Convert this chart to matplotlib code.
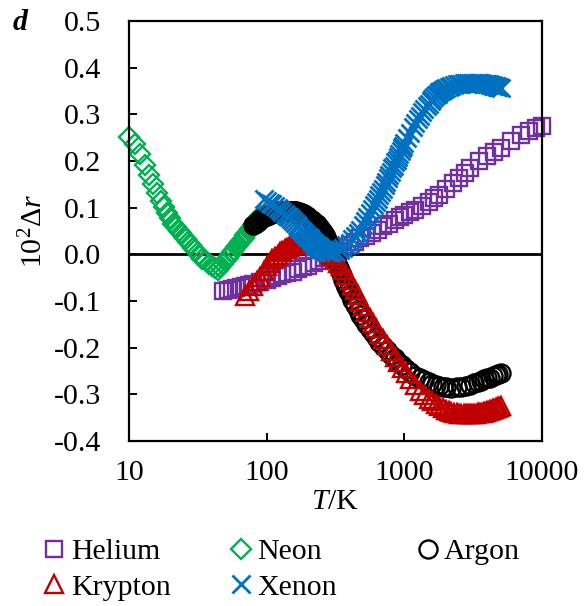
import matplotlib
matplotlib.use("Agg")
import matplotlib.pyplot as plt
from matplotlib.ticker import FixedLocator, NullLocator, FormatStrFormatter

plt.rcParams['font.family'] = 'serif'
plt.rcParams['font.serif'] = ['Liberation Serif', 'DejaVu Serif']
plt.rcParams['mathtext.fontset'] = 'custom'
plt.rcParams['mathtext.rm'] = 'Liberation Serif'
plt.rcParams['mathtext.it'] = 'Liberation Serif:italic'
plt.rcParams['axes.unicode_minus'] = False
plt.rcParams['font.size'] = 21.5

# temperature T/K and 10^2 * delta r for each gas
he_T = [48, 52, 56, 60, 65, 70, 75, 80, 90, 100,
        110, 120, 130, 140, 155, 170, 185, 200, 220, 240,
        260, 280, 300, 330, 360, 400, 440, 480, 530, 580,
        640, 700, 770, 850, 930, 1000, 1100, 1200, 1350, 1500,
        1650, 1800, 2000, 2250, 2500, 2750, 3000, 3500, 4000, 4500,
        5000, 6000, 7000, 8000, 9000, 10000]
he_v = [-0.079, -0.077, -0.075, -0.073, -0.071, -0.068, -0.066, -0.064, -0.059, -0.055,
        -0.050, -0.046, -0.043, -0.041, -0.037, -0.032, -0.028, -0.024, -0.019, -0.014,
        -0.008, -0.004, 0.002, 0.008, 0.013, 0.020, 0.027, 0.034, 0.040, 0.045,
        0.052, 0.060, 0.066, 0.073, 0.080, 0.085, 0.091, 0.096, 0.104, 0.113,
        0.121, 0.128, 0.140, 0.152, 0.164, 0.175, 0.185, 0.199, 0.211, 0.220,
        0.228, 0.243, 0.256, 0.265, 0.271, 0.275]

ne_T = [10, 11, 12, 13, 14, 15, 16, 17, 18, 19, 20, 21, 22, 23, 24, 25, 26, 27, 28, 29, 30,
        32, 34, 36, 38, 40, 42, 44, 46, 48, 50, 52, 54, 56, 58, 60,
        62, 64, 66, 68, 70, 72, 74, 76, 78, 80, 82, 84, 86, 88, 90]
ne_v = [0.252, 0.236, 0.216, 0.192, 0.170, 0.150, 0.131, 0.114, 0.101, 0.089, 0.077,
        0.066, 0.059, 0.051, 0.045, 0.038, 0.032, 0.026, 0.020, 0.014, 0.009,
        -0.002, -0.009, -0.015, -0.020, -0.025, -0.030, -0.034, -0.028, -0.021, -0.014,
        -0.008, -0.002, 0.004, 0.010, 0.016, 0.021, 0.026, 0.031, 0.036, 0.041,
        0.045, 0.050, 0.054, 0.058, 0.063, 0.067, 0.071, 0.074, 0.078, 0.082]

ar_T = [80, 82, 84, 86, 88, 90, 92, 94, 96, 98,
        100, 102, 104, 106, 108, 110, 112, 114, 116, 118,
        120, 122, 124, 126, 128, 130, 132, 134, 136, 138,
        140, 142, 144, 146, 148, 150, 152, 154, 156, 158,
        160, 162, 164, 166, 168, 170, 172, 174, 176, 178,
        180, 182, 184, 186, 188, 190, 192, 194, 196, 198,
        200, 204, 208, 212, 216, 220, 224, 228, 232, 236,
        240, 244, 248, 252, 256, 260, 264, 268, 272, 276,
        280, 284, 288, 292, 296, 300, 305, 310, 315, 320,
        325, 330, 335, 340, 345, 350, 360, 370, 380, 390,
        400, 420, 440, 460, 480, 500, 530, 560, 590, 620,
        660, 700, 750, 800, 850, 900, 960, 1020, 1100,
        1200, 1300, 1400, 1500, 1600, 1700, 1800, 1900, 2000,
        2200, 2400, 2600, 2800, 3000, 3200, 3400, 3600, 3800, 4000,
        4200, 4400, 4600, 4800, 5000]
ar_v = [0.062, 0.065, 0.068, 0.070, 0.073, 0.075, 0.077, 0.079, 0.080, 0.082,
        0.083, 0.084, 0.085, 0.086, 0.087, 0.088, 0.089, 0.089, 0.090, 0.090,
        0.091, 0.091, 0.092, 0.092, 0.092, 0.093, 0.093, 0.093, 0.093, 0.093,
        0.093, 0.093, 0.093, 0.093, 0.093, 0.093, 0.093, 0.093, 0.092, 0.092,
        0.092, 0.092, 0.091, 0.091, 0.090, 0.090, 0.090, 0.089, 0.089, 0.088,
        0.088, 0.087, 0.086, 0.086, 0.085, 0.084, 0.083, 0.083, 0.082, 0.081,
        0.080, 0.078, 0.076, 0.074, 0.072, 0.070, 0.068, 0.066, 0.064, 0.061,
        0.059, 0.056, 0.053, 0.050, 0.047, 0.044, 0.041, 0.037, 0.033, 0.030,
        0.026, 0.022, 0.018, 0.014, 0.009, 0.005, 0.000, -0.005, -0.010, -0.015,
        -0.020, -0.025, -0.030, -0.035, -0.040, -0.045, -0.055, -0.063, -0.070, -0.078,
        -0.085, -0.097, -0.109, -0.120, -0.129, -0.138, -0.149, -0.160, -0.169, -0.177,
        -0.187, -0.196, -0.205, -0.215, -0.223, -0.230, -0.238, -0.245, -0.253,
        -0.260, -0.266, -0.270, -0.274, -0.277, -0.280, -0.282, -0.284, -0.285,
        -0.286, -0.285, -0.284, -0.282, -0.279, -0.276, -0.273, -0.271, -0.268, -0.266,
        -0.264, -0.261, -0.259, -0.257, -0.255]

kr_T = [70, 75, 80, 85, 90, 95, 100, 105, 110, 115, 120, 125, 130, 135, 140, 145, 150,
        155, 160, 165, 170, 175, 180, 185, 190, 195, 200, 205, 210, 215, 220, 225, 230,
        235, 240, 245, 250, 255, 260, 265, 270, 275, 280, 285, 290, 295, 300,
        315, 330, 345, 360, 380, 400, 420, 440, 460, 480, 500,
        530, 560, 590, 620, 660, 700, 750, 800, 850, 900, 960, 1020, 1100,
        1200, 1300, 1400, 1500, 1600, 1700, 1800, 1900, 2000,
        2100, 2200, 2300, 2400, 2500, 2600, 2700, 2800, 2900, 3000,
        3100, 3200, 3300, 3400, 3500, 3600, 3700, 3800, 3900, 4000,
        4100, 4200, 4300, 4400, 4500, 4600, 4700, 4800, 4900, 5000]
kr_v = [-0.090, -0.079, -0.068, -0.058, -0.048, -0.036, -0.025, -0.018, -0.011, -0.005,
        -0.001, 0.004, 0.008, 0.011, 0.013, 0.016, 0.018,
        0.019, 0.021, 0.022, 0.024, 0.025, 0.026, 0.027, 0.027, 0.028, 0.028, 0.028, 0.028,
        0.027, 0.027, 0.026, 0.025, 0.024, 0.023, 0.021, 0.020, 0.018, 0.016, 0.014, 0.012,
        0.010, 0.008, 0.005, 0.003, 0.000, -0.003,
        -0.010, -0.018, -0.025, -0.033, -0.044, -0.055, -0.066, -0.077, -0.088, -0.099, -0.110,
        -0.124, -0.137, -0.147, -0.157, -0.170, -0.182, -0.195, -0.208, -0.220, -0.231,
        -0.243, -0.254, -0.268,
        -0.281, -0.292, -0.301, -0.309, -0.315, -0.320, -0.326, -0.330, -0.333,
        -0.336, -0.338, -0.340, -0.341, -0.342, -0.343, -0.343, -0.343, -0.343, -0.343,
        -0.343, -0.342, -0.342, -0.341, -0.340, -0.339, -0.339, -0.338, -0.337, -0.336,
        -0.335, -0.334, -0.333, -0.332, -0.331, -0.330, -0.329, -0.328, -0.327, -0.326]

xe_T = [95, 100, 105, 110, 115, 120, 125, 130, 135, 140, 145, 150, 155, 160, 165, 170,
        175, 180, 185, 190, 195, 200, 205, 210, 215, 220, 225, 230, 235, 240, 245, 250,
        255, 260, 265, 270, 275, 280, 285, 290, 295, 300,
        320, 340, 360, 380, 400, 420, 440, 460, 480, 500,
        520, 540, 560, 580, 600, 620, 640, 660, 680, 700,
        720, 740, 760, 780, 800, 820, 840, 860, 880, 900,
        920, 940, 960, 980, 1000,
        1050, 1100, 1150, 1200, 1250, 1300, 1350, 1400, 1450, 1500,
        1550, 1600, 1650, 1700, 1750, 1800, 1850, 1900, 1950, 2000,
        2100, 2200, 2300, 2400, 2500, 2600, 2700, 2800, 2900, 3000,
        3100, 3200, 3300, 3400, 3500, 3600, 3700, 3800, 3900, 4000,
        4100, 4200, 4300, 4400, 4500, 4600, 4700, 4800, 4900, 5000]
xe_v = [0.118, 0.115, 0.111, 0.107, 0.103, 0.099, 0.095, 0.091, 0.087, 0.083, 0.079,
        0.075, 0.071, 0.067, 0.063, 0.059, 0.055, 0.051, 0.048, 0.044, 0.040, 0.037,
        0.034, 0.030, 0.027, 0.024, 0.021, 0.019, 0.017, 0.015, 0.013, 0.011, 0.010,
        0.009, 0.008, 0.007, 0.006, 0.005, 0.005, 0.004, 0.004, 0.004,
        0.006, 0.010, 0.014, 0.019, 0.025, 0.032, 0.039, 0.046, 0.053, 0.062,
        0.071, 0.080, 0.089, 0.097, 0.105, 0.112, 0.119, 0.127, 0.134, 0.141,
        0.149, 0.156, 0.163, 0.170, 0.177, 0.184, 0.190, 0.197, 0.203, 0.209,
        0.215, 0.221, 0.227, 0.233, 0.238,
        0.249, 0.261, 0.272, 0.282, 0.289, 0.297, 0.304, 0.311, 0.318, 0.323,
        0.328, 0.333, 0.337, 0.341, 0.344, 0.347, 0.350, 0.352, 0.354, 0.356,
        0.359, 0.361, 0.363, 0.364, 0.365, 0.366, 0.367, 0.367, 0.368, 0.368,
        0.368, 0.368, 0.368, 0.368, 0.367, 0.367, 0.366, 0.366, 0.365, 0.364,
        0.364, 0.363, 0.362, 0.361, 0.361, 0.360, 0.359, 0.358, 0.358, 0.357]

x_ticks = [10, 100, 1000, 10000]
x_labels = ['10', '100', '1000', '10000']
y_ticks = [-0.4, -0.3, -0.2, -0.1, 0.0, 0.1, 0.2, 0.3, 0.4, 0.5]

fig = plt.figure(figsize=(5.85, 6.06), dpi=100)
ax = fig.add_axes([0.2205, 0.2723, 0.706, 0.693])

ax.axhline(0, color='black', lw=2.0, zorder=1)

kw = dict(ls='none', mfc='none', clip_on=False)
h_he, = ax.plot(he_T, he_v, marker='s', ms=12, mew=1.7, mec='#7030A0', label='Helium', **kw)
h_ne, = ax.plot(ne_T, ne_v, marker='D', ms=10.5, mew=1.7, mec='#00B050', label='Neon', **kw)
h_ar, = ax.plot(ar_T, ar_v, marker='o', ms=13, mew=1.7, mec='black', label='Argon', **kw)
h_kr, = ax.plot(kr_T, kr_v, marker='^', ms=13.5, mew=1.7, mec='#C00000', label='Krypton', **kw)
h_xe, = ax.plot(xe_T, xe_v, marker='x', ms=13, mew=2.0, mec='#0070C0', label='Xenon', **kw)

ax.set_xscale('log')
ax.set_xlim(10, 10000)
ax.set_ylim(-0.4, 0.5)
ax.xaxis.set_major_locator(FixedLocator(x_ticks))
ax.xaxis.set_minor_locator(NullLocator())
ax.set_xticklabels(x_labels)
ax.set_yticks(y_ticks)
ax.yaxis.set_major_formatter(FormatStrFormatter('%.1f'))

for sp in ax.spines.values():
    sp.set_linewidth(1.6)
ax.tick_params(axis='both', direction='in', length=6, width=1.4)
ax.tick_params(axis='y', pad=20)
ax.tick_params(axis='x', pad=14)

ax.set_xlabel(r'$\mathit{T}$/K', labelpad=2)
ax.set_ylabel(r'10$^{2}$Δ$\mathit{r}$', labelpad=4)

fig.text(0.022, 0.985, 'd', fontweight='bold', fontstyle='italic', va='top')

# legend laid out as three equal-width columns
cols = [([h_he, h_kr], 0.075), ([h_ne, h_xe], 0.394), ([h_ar], 0.713)]
for handles, x0 in cols:
    fig.legend(handles, [h.get_label() for h in handles], loc='upper left',
               bbox_to_anchor=(x0, 0.112), frameon=False, borderpad=0,
               handlelength=0.7, handletextpad=0.2, labelspacing=0.3,
               borderaxespad=0, numpoints=1)

fig.savefig('out.png', dpi=100)
